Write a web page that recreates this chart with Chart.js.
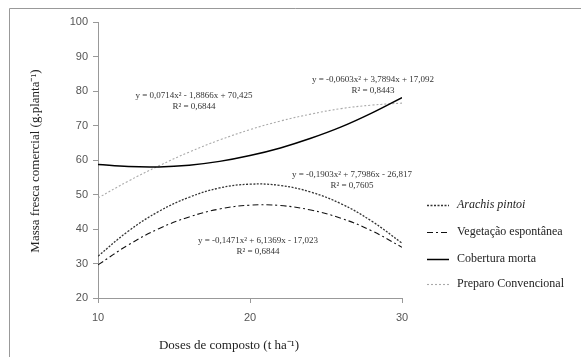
<!DOCTYPE html>
<html>
<head>
<meta charset="utf-8">
<script src="https://cdn.jsdelivr.net/npm/chart.js@4"></script>
<style>
  html, body { margin: 0; padding: 0; background: #fff; }
  #wrap { width: 581px; height: 357px; position: relative; }
</style>
</head>
<body>
<div id="wrap"><canvas id="grafico" width="581" height="357"></canvas></div>
<script>
// Doses de composto (t ha-1)
const doses = [10, 12, 14, 16, 18, 20, 22, 24, 26, 28, 30];

// valores (g.planta-1)
const arachisPintoi = [32.1, 39.4, 45.1, 49.2, 51.9, 53.0, 52.6, 50.7, 47.3, 42.3, 35.9];
const vegetacaoEspontanea = [29.6, 35.4, 40.1, 43.5, 45.8, 46.9, 46.8, 45.5, 43.1, 39.5, 34.7];
const coberturaMorta = [58.7, 58.1, 58.0, 58.5, 59.6, 61.3, 63.5, 66.3, 69.6, 73.6, 78.1];
const preparoConvencional = [49.0, 53.9, 58.3, 62.3, 65.8, 68.8, 71.3, 73.3, 74.9, 75.9, 76.5];

const nomesSeries = ['Arachis pintoi', 'Vegetação espontânea', 'Cobertura morta', 'Preparo Convencional'];

const xTicks = [10, 20, 30];
const yTicks = [20, 30, 40, 50, 60, 70, 80, 90, 100];

const equacoes = [
    ['y = 0,0714x² - 1,8866x + 70,425', 'R² = 0,6844'],
    ['y = -0,0603x² + 3,7894x + 17,092', 'R² = 0,8443'],
    ['y = -0,1903x² + 7,7986x - 26,817', 'R² = 0,7605'],
    ['y = -0,1471x² + 6,1369x - 17,023', 'R² = 0,6844']
];

const tituloX = 'Doses de composto (t ha⁻¹)';
const tituloY = 'Massa fresca comercial (g.planta⁻¹)';

function pontos(valores) {
    return doses.map((d, i) => ({ x: d, y: valores[i] }));
}

// ===== ESTILOS DAS LINHAS =====
const estilos = [
    { cor: '#333', largura: 1.3, traco: [2, 1.5] },
    { cor: '#111', largura: 1.1, traco: [6, 3, 2, 3] },
    { cor: '#000', largura: 1.5, traco: [] },
    { cor: '#aaa', largura: 1.1, traco: [2, 2] }
];
const seriesValores = [arachisPintoi, vegetacaoEspontanea, coberturaMorta, preparoConvencional];

// ===== PLUGIN: moldura, titulos, equacoes e legenda =====
const extras = {
    id: 'extras',
    beforeDraw(chart) {
        const ctx = chart.ctx;
        ctx.save();
        ctx.fillStyle = '#fff';
        ctx.fillRect(0, 0, chart.width, chart.height);
        ctx.strokeStyle = '#999';
        ctx.lineWidth = 1;
        ctx.beginPath();
        ctx.moveTo(9.5, chart.height);
        ctx.lineTo(9.5, 8.5);
        ctx.lineTo(chart.width, 8.5);
        ctx.stroke();
        ctx.restore();
    },
    afterDatasetsDraw(chart) {
        const ctx = chart.ctx;
        ctx.save();
        ctx.font = '9px "Liberation Serif", serif';
        ctx.textAlign = 'center';
        ctx.textBaseline = 'middle';
        const posicoes = [[194, 96], [373, 80], [352, 175], [258, 241]];
        equacoes.forEach((linhas, i) => {
            const [cx, cy] = posicoes[i];
            linhas.forEach((t, j) => {
                const w = ctx.measureText(t).width;
                const y = cy + j * 10.5;
                ctx.fillStyle = '#fff';
                ctx.fillRect(cx - w / 2 - 1, y - 5, w + 2, 10);
                ctx.fillStyle = '#333';
                ctx.fillText(t, cx, y);
            });
        });
        ctx.restore();
    },
    afterDraw(chart) {
        const ctx = chart.ctx;
        ctx.save();
        // titulos dos eixos
        ctx.fillStyle = '#222';
        ctx.font = '13px "Liberation Serif", serif';
        ctx.textAlign = 'center';
        ctx.textBaseline = 'middle';
        ctx.fillText(tituloX, 229, 346);
        ctx.translate(36, 161);
        ctx.rotate(-Math.PI / 2);
        ctx.fillText(tituloY, 0, 0);
        ctx.restore();

        // legenda
        ctx.save();
        const ys = [205, 232, 259, 284];
        nomesSeries.forEach((nome, i) => {
            const e = estilos[i];
            ctx.strokeStyle = e.cor;
            ctx.lineWidth = e.largura;
            ctx.setLineDash(e.traco);
            ctx.beginPath();
            ctx.moveTo(427, ys[i] + 0.5);
            ctx.lineTo(449, ys[i] + 0.5);
            ctx.stroke();
            ctx.setLineDash([]);
            ctx.fillStyle = '#222';
            ctx.font = (i === 0 ? 'italic ' : '') + '12px "Liberation Serif", serif';
            ctx.textAlign = 'left';
            ctx.textBaseline = 'middle';
            ctx.fillText(nome, 457, ys[i]);
        });
        ctx.restore();
    }
};

const ctx = document.getElementById('grafico').getContext('2d');
new Chart(ctx, {
    type: 'line',
    data: {
        datasets: nomesSeries.map((nome, i) => ({
            label: nome,
            data: pontos(seriesValores[i]),
            borderColor: estilos[i].cor,
            borderWidth: estilos[i].largura,
            borderDash: estilos[i].traco,
            pointRadius: 0,
            tension: 0.4,
            fill: false
        }))
    },
    options: {
        responsive: false,
        animation: false,
        layout: { padding: { top: 22, right: 179, bottom: 0, left: 0 } },
        plugins: {
            legend: { display: false },
            tooltip: { enabled: false }
        },
        scales: {
            x: {
                type: 'linear',
                min: 10,
                max: 30,
                afterFit: s => { s.height = 59; },
                afterBuildTicks: s => { s.ticks = xTicks.map(v => ({ value: v })); },
                grid: { drawOnChartArea: false, drawTicks: true, tickLength: 5, color: '#999' },
                border: { color: '#999', width: 1 },
                ticks: { color: '#555', padding: 8, font: { family: '"Liberation Sans", sans-serif', size: 11 } }
            },
            y: {
                min: 20,
                max: 100,
                afterFit: s => { s.width = 98; },
                afterBuildTicks: s => { s.ticks = yTicks.map(v => ({ value: v })); },
                grid: { drawOnChartArea: false, drawTicks: true, tickLength: 5, color: '#999' },
                border: { color: '#999', width: 1 },
                ticks: { color: '#555', padding: 5, font: { family: '"Liberation Sans", sans-serif', size: 11 } }
            }
        }
    },
    plugins: [extras]
});
</script>
</body>
</html>
